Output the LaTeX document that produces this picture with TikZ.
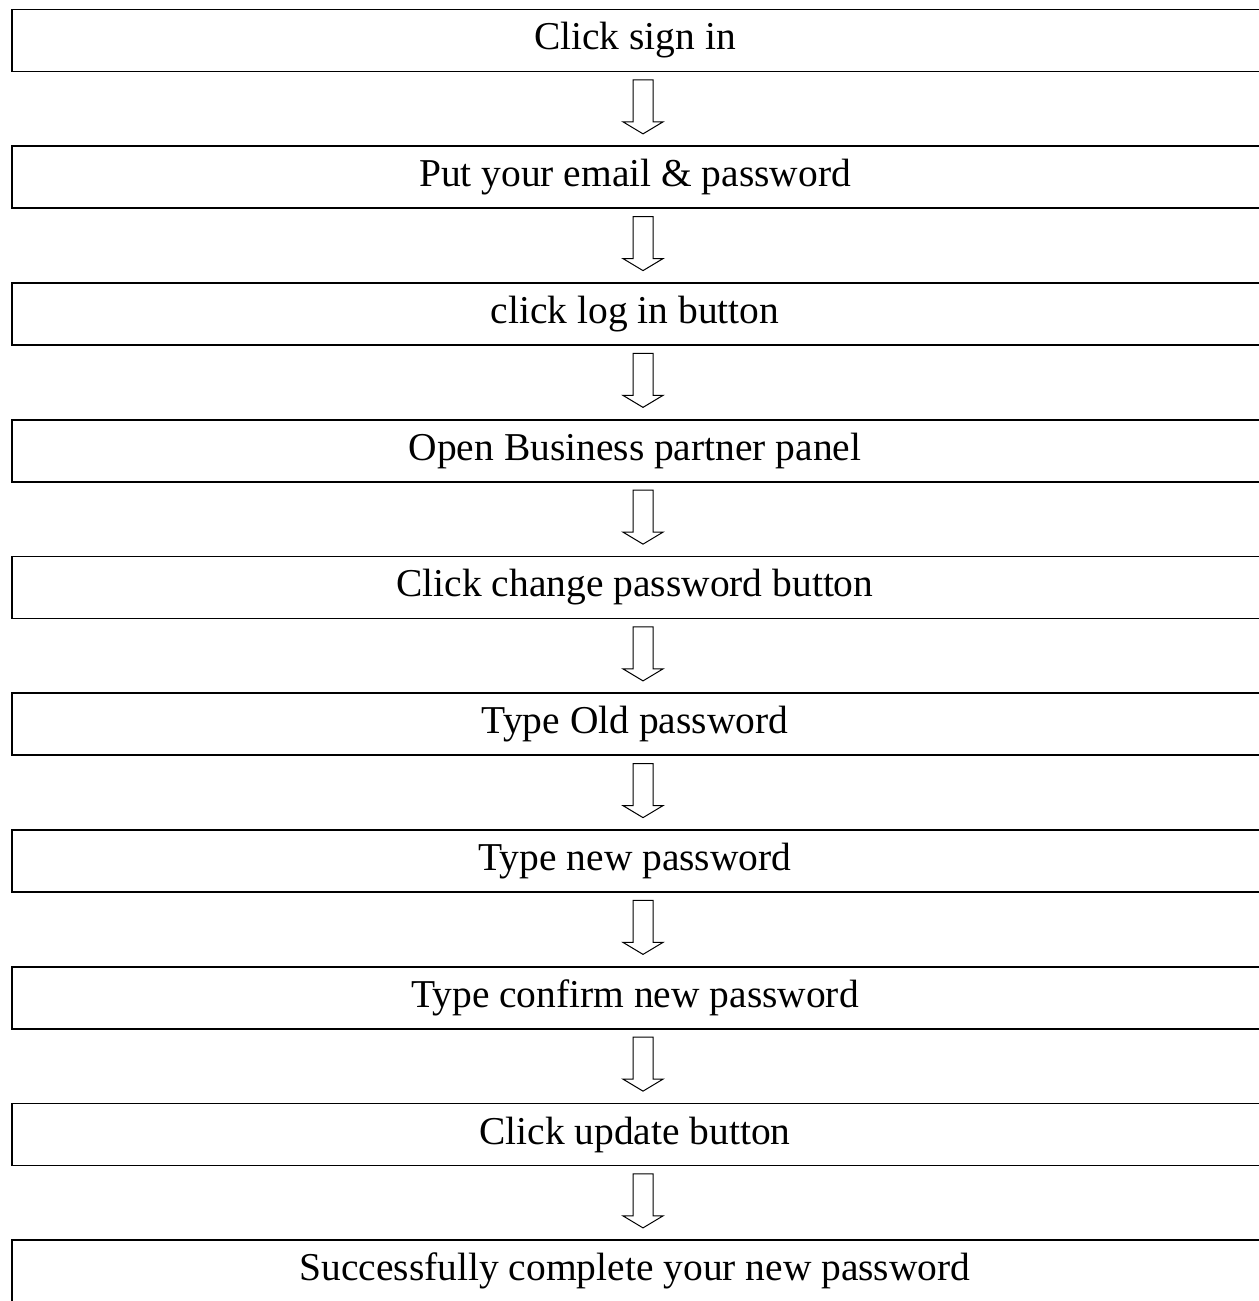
\documentclass[tikz,border=0pt]{standalone}
\usepackage{fontspec}
\setmainfont{Liberation Serif}
\usetikzlibrary{calc}
\tikzset{
  stepbox/.style={draw=black, line width=1.3pt, rectangle, minimum width=948pt, minimum height=46.5pt, inner sep=0pt, font=\fontsize{29.6}{35}\selectfont},
  hollowarrow/.style={draw=black, fill=white, line width=0.75pt, line join=miter}
}
\begin{document}
\begin{tikzpicture}[x=0.75pt, y=-0.75pt]
\useasboundingbox (0,0) rectangle (1258,1301);
\foreach \t [count=\i from 0] in {Click sign in, Put your email \& password, click log in button, Open Business partner panel, Click change password button, Type Old password, Type new password, Type confirm new password, Click update button, Successfully complete your new password} {
  \node[stepbox] (b\i) at (644, {40.5+\i*136.75}) {\hspace*{-13.5pt}\t};
}
\foreach \i [evaluate=\i as \j using int(\i+1)] in {0,...,8} {
  \coordinate (m\i) at ($(b\i.south)!0.5!(b\j.north)+(-1,-2)$);
  \draw[hollowarrow] ($(m\i)+(-10,-27)$) -- ($(m\i)+(10,-27)$) -- ($(m\i)+(10,15)$) -- ($(m\i)+(20,15)$) -- ($(m\i)+(0,27)$) -- ($(m\i)+(-20,15)$) -- ($(m\i)+(-10,15)$) -- cycle;
}
\end{tikzpicture}
\end{document}
